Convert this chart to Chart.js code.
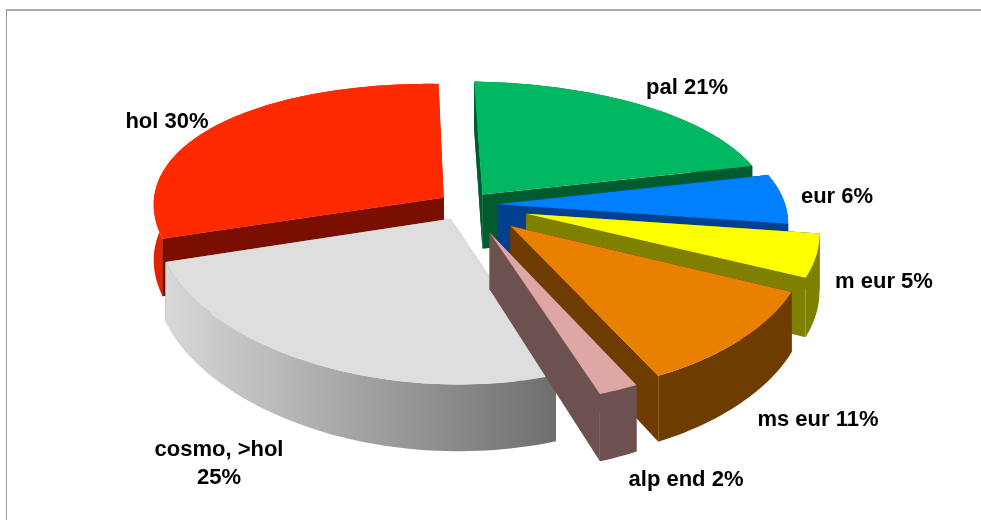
<!DOCTYPE html>
<html>
<head>
<meta charset="utf-8">
<title>pie</title>
<script src="https://cdn.jsdelivr.net/npm/chart.js@4/dist/chart.umd.min.js"></script>
<style>
  html, body { margin: 0; padding: 0; background: #fff; overflow: hidden; }
  #wrap { position: relative; width: 981px; height: 520px; }
  #frame { position: absolute; left: 6px; top: 9px; right: 0; bottom: 0; border-top: 2px solid #ababab; border-left: 1px solid #999; }
  canvas { position: absolute; left: 0; top: 0; }
</style>
</head>
<body>
<div id="wrap">
  <div id="frame"></div>
  <canvas id="chart" width="981" height="520"></canvas>
</div>
<script>
const categories = ['pal', 'eur', 'm eur', 'ms eur', 'alp end', 'cosmo, >hol', 'hol'];
const values = [21, 6, 5, 11, 2, 25, 30];

const topColors = ['#00b85f', '#0080ff', '#ffff00', '#e98000', '#dfa6a6', '#dedede', '#ff2a00'];
const wallColors = ['#005c2f', '#00408f', '#7f7f00', '#6f3c00', '#6d5050', '#8a8a8a', '#7a0e00'];
const rimColors = ['#005c2f', '#00408f', '#7f7f00', '#6f3c00', '#6d5050', '#8a8a8a', '#e02400'];
const explode = [24, 26, 51, 50, 50, 27, 21];

// where the labels sit: centre x, centre y of each line
const labelSpots = [[687, 88], [837, 197], [884, 282], [818, 420], [686, 480], [219, 450], [167, 122]];

// fake 3D view of the flat pie
const view = { cx: 465, cy: 205, rx: 290, ry: 134, kx: 0.09, ky: 0.16, tilt: 6, depth: 55 };

function project(u, v, down) {
  const sx = 1 / (1 - view.kx * v), sy = 1 / (1 - view.ky * v);
  return [view.cx + u * sx * view.rx, view.cy + u * view.tilt + (v * view.ry + (down ? view.depth : 0)) * sy];
}

function tracePoly(ctx, pts) {
  ctx.beginPath();
  pts.forEach((p, i) => i ? ctx.lineTo(p[0], p[1]) : ctx.moveTo(p[0], p[1]));
  ctx.closePath();
}

function drawSlice(ctx, arc, i) {
  const R = arc.outerRadius;
  const mid = (arc.startAngle + arc.endAngle) / 2;
  const off = explode[i] / R;
  const ou = Math.cos(mid) * off, ov = Math.sin(mid) * off;

  const edge = [];
  const steps = Math.max(4, Math.ceil((arc.endAngle - arc.startAngle) * 40));
  for (let n = 0; n <= steps; n++) {
    const a = arc.startAngle + (arc.endAngle - arc.startAngle) * n / steps;
    edge.push([ou + Math.cos(a), ov + Math.sin(a)]);
  }
  const top = edge.map(p => project(p[0], p[1], false));
  const bottom = edge.map(p => project(p[0], p[1], true));
  const tipTop = project(ou, ov, false), tipBottom = project(ou, ov, true);

  // cut walls
  ctx.fillStyle = wallColors[i];
  tracePoly(ctx, [tipTop, top[0], bottom[0], tipBottom]);
  ctx.fill();
  tracePoly(ctx, [tipTop, top[steps], bottom[steps], tipBottom]);
  ctx.fill();

  // rim, the cosmo one is shaded from light to dark
  if (i === 5) {
    const g = ctx.createLinearGradient(top[steps][0], 0, top[0][0], 0);
    g.addColorStop(0, '#d8d8d8');
    g.addColorStop(1, '#6e6e6e');
    ctx.fillStyle = g;
  } else {
    ctx.fillStyle = rimColors[i];
  }
  tracePoly(ctx, top.concat(bottom.slice().reverse()));
  ctx.fill();

  // hol keeps its dark cut on top of the brighter rim
  ctx.fillStyle = wallColors[i];
  if (i !== 5) {
    tracePoly(ctx, [tipTop, top[0], bottom[0], tipBottom]);
    ctx.fill();
  }

  // top face
  ctx.fillStyle = topColors[i];
  tracePoly(ctx, [tipTop].concat(top));
  ctx.fill();
}

const pie3d = {
  id: 'pie3d',
  beforeDatasetsDraw(chart) {
    const ctx = chart.ctx;
    const arcs = chart.getDatasetMeta(0).data;
    // back slices first
    const order = arcs.map((a, i) => i).sort((a, b) =>
      Math.sin((arcs[a].startAngle + arcs[a].endAngle) / 2) - Math.sin((arcs[b].startAngle + arcs[b].endAngle) / 2));
    ctx.save();
    order.forEach(i => drawSlice(ctx, arcs[i], i));
    ctx.restore();
    return false;
  },
  afterDraw(chart) {
    const ctx = chart.ctx;
    ctx.save();
    ctx.fillStyle = '#000';
    ctx.font = 'bold 22px "Liberation Sans", Arial, sans-serif';
    ctx.textAlign = 'center';
    ctx.textBaseline = 'middle';
    categories.forEach((c, i) => {
      const spot = labelSpots[i];
      if (c.indexOf(',') > -1) {
        ctx.fillText(c, spot[0], spot[1]);
        ctx.fillText(values[i] + '%', spot[0], spot[1] + 28);
      } else {
        ctx.fillText(c + ' ' + values[i] + '%', spot[0], spot[1]);
      }
    });
    ctx.restore();
  }
};

new Chart(document.getElementById('chart'), {
  type: 'pie',
  data: {
    labels: categories,
    datasets: [{ data: values, backgroundColor: topColors, borderWidth: 0, offset: explode }]
  },
  options: {
    responsive: false,
    animation: false,
    rotation: -1.5,
    plugins: { legend: { display: false }, tooltip: { enabled: false } }
  },
  plugins: [pie3d]
});
</script>
</body>
</html>
